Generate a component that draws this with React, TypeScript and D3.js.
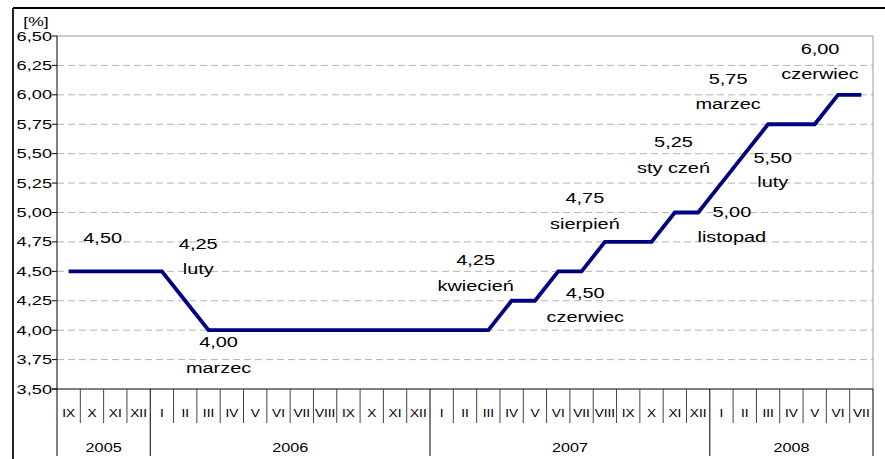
import * as d3 from "d3";

// monthly reference rate, IX 2005 .. VII 2008
const months = [
  "IX", "X", "XI", "XII",
  "I", "II", "III", "IV", "V", "VI", "VII", "VIII", "IX", "X", "XI", "XII",
  "I", "II", "III", "IV", "V", "VI", "VII", "VIII", "IX", "X", "XI", "XII",
  "I", "II", "III", "IV", "V", "VI", "VII",
];
const rates = [
  4.5, 4.5, 4.5, 4.5,
  4.5, 4.25, 4.0, 4.0, 4.0, 4.0, 4.0, 4.0, 4.0, 4.0, 4.0, 4.0,
  4.0, 4.0, 4.0, 4.25, 4.25, 4.5, 4.5, 4.75, 4.75, 4.75, 5.0, 5.0,
  5.25, 5.5, 5.75, 5.75, 5.75, 6.0, 6.0,
];
const years = ["2005", "2006", "2007", "2008"];
const yearStart = [0, 4, 16, 28];
const yTicks = d3.range(3.5, 6.51, 0.25);

// annotations: which month they belong to, rate text, month name
const noteIdx = [0, 5, 6, 19, 21, 23, 26, 28, 29, 30, 33];
const noteRate = ["4,50", "4,25", "4,00", "4,25", "4,50", "4,75", "5,00", "5,25", "5,50", "5,75", "6,00"];
const noteMonth = ["", "luty", "marzec", "kwiecień", "czerwiec", "sierpień", "listopad", "sty czeń", "luty", "marzec", "czerwiec"];
// label offsets from the point [dx, dy, second line gap]
const noteOffset = [
  [34, -28, 25], [13, -52, 25], [10, 17, 26], [-36, -36, 26], [27, 27, 24], [-20, -39, 26],
  [57, 4, 25], [-48, -36, 26], [28, 9, 24], [-40, -40, 25], [-18, -41, 25],
];

const W = 885, H = 459;
const left = 57, right = 873, top = 36, bottom = 389;
const x = d3.scaleLinear().domain([0, months.length]).range([left, right]);
const y = d3.scaleLinear().domain([3.5, 6.5]).range([bottom, top]);
const fmt = (v: number) => d3.format(".2f")(v).replace(".", ",");
const font = "Arial, 'Liberation Sans', sans-serif";

function T({ x, y, sx, size, anchor = "middle", children }: any) {
  return (
    <text transform={`translate(${x},${y}) scale(${sx},1)`} fontSize={size} fontFamily={font} textAnchor={anchor} fill="#000">
      {children}
    </text>
  );
}

export default function App() {
  const line = d3
    .line<number>()
    .x((_, i) => x(i + 0.5))
    .y((d) => y(d));

  return (
    <div style={{ position: "fixed", left: 0, top: 0 }}>
      <svg width={W} height={H} style={{ display: "block", background: "#fff" }}>
        {/* outer frame */}
        <line x1={13} x2={W} y1={8} y2={8} stroke="#000" strokeWidth={2} />
        <line x1={13} x2={13} y1={8} y2={H} stroke="#222" strokeWidth={2} />

        {/* grid */}
        {yTicks.slice(1, -1).map((t) => (
          <line key={t} x1={left} x2={right} y1={y(t)} y2={y(t)} stroke="#b4b4b4" strokeDasharray="7,4" />
        ))}
        <line x1={left} x2={right} y1={top} y2={top} stroke="#999" />
        <line x1={right} x2={right} y1={top} y2={bottom} stroke="#999" />

        {/* y axis */}
        <line x1={left} x2={left} y1={top} y2={456} stroke="#000" />
        {yTicks.map((t) => (
          <g key={"t" + t}>
            <line x1={left - 5} x2={left} y1={y(t)} y2={y(t)} stroke="#000" />
            <T x={52} y={y(t) + 4.5} sx={1.4} size={13} anchor="end">{fmt(t)}</T>
          </g>
        ))}
        <T x={36} y={26} sx={1.35} size={13}>[%]</T>

        {/* x axis */}
        <line x1={left - 5} x2={right} y1={bottom} y2={bottom} stroke="#000" />
        {months.map((m, i) => (
          <g key={"m" + i}>
            {i > 0 && !yearStart.includes(i) && (
              <line x1={x(i)} x2={x(i)} y1={bottom} y2={423} stroke="#444" />
            )}
            <T x={x(i + 0.5)} y={417} sx={1.3} size={10.5}>{m}</T>
          </g>
        ))}
        {[...yearStart.slice(1), months.length].map((k) => (
          <line key={"y" + k} x1={x(k)} x2={x(k)} y1={bottom} y2={456} stroke="#000" />
        ))}
        {years.map((yr, i) => {
          const a = yearStart[i];
          const b = i + 1 < yearStart.length ? yearStart[i + 1] : months.length;
          return (
            <T key={yr} x={(x(a) + x(b)) / 2} y={452} sx={1.2} size={13.5}>{yr}</T>
          );
        })}

        {/* rate line */}
        <path d={line(rates) ?? ""} fill="none" stroke="#000080" strokeWidth={3.8} />

        {/* annotations */}
        {noteIdx.map((idx, k) => {
          const [dx, dy, gap] = noteOffset[k];
          const px = x(idx + 0.5) + dx;
          const py = y(rates[idx]) + dy;
          return (
            <g key={"n" + k}>
              <T x={px} y={py} sx={1.33} size={15}>{noteRate[k]}</T>
              {noteMonth[k] && <T x={px} y={py + gap} sx={1.33} size={15}>{noteMonth[k]}</T>}
            </g>
          );
        })}
      </svg>
    </div>
  );
}
